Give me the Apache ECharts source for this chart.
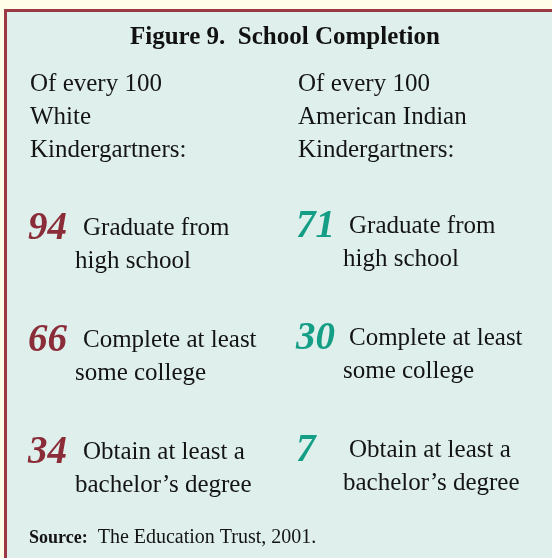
<!DOCTYPE html>
<html>
<head>
<meta charset="utf-8">
<script src="https://cdn.jsdelivr.net/npm/echarts@6/dist/echarts.min.js"></script>
<style>
  html, body { margin: 0; padding: 0; background: #fffde8; }
  #chart { width: 552px; height: 558px; }
</style>
</head>
<body>
<div id="chart"></div>
<script>
// groups of kindergartners (columns) and outcomes (rows)
var groups = ['White', 'American Indian']
var outcomes = ['Graduate from\nhigh school', 'Complete at least\nsome college', 'Obtain at least a\nbachelor\u2019s degree']
var whiteValues = [94, 66, 34]
var indianValues = [71, 30, 7]

var serif = '"Liberation Serif", "DejaVu Serif", serif'
var maroon = '#8b2c39'
var teal = '#159e86'
var ink = '#141414'

function buildLabel(color, numWidth, gap) {
  return {
    show: true,
    position: 'right',
    distance: 0,
    formatter: function (p) {
      var lines = outcomes[p.value[1]].split('\n')
      return '{n|' + p.value[2] + '}{a|' + lines[0] + '}\n{s|}{b|' + lines[1] + '}'
    },
    rich: {
      n: { fontFamily: serif, fontSize: 39, fontWeight: 'bold', fontStyle: 'italic', color: color, width: numWidth, lineHeight: 33, verticalAlign: 'middle' },
      a: { fontFamily: serif, fontSize: 25, color: ink, lineHeight: 33, padding: [0, 0, 0, gap], verticalAlign: 'middle' },
      s: { width: numWidth, lineHeight: 33 },
      b: { fontFamily: serif, fontSize: 25, color: ink, lineHeight: 33, verticalAlign: 'middle' }
    }
  }
}

var chart = echarts.init(document.getElementById('chart'))
chart.setOption({
  backgroundColor: '#fffde8',
  animation: false,
  graphic: [{
    type: 'rect',
    z: -10,
    shape: { x: 5.5, y: 10.5, width: 560, height: 560 },
    style: { fill: '#dff0ec', stroke: '#9b3a45', lineWidth: 3 }
  }],
  title: [{
    text: 'Figure 9.  School Completion',
    left: 125,
    top: 20,
    textStyle: { fontFamily: serif, fontSize: 25, fontWeight: 'bold', color: '#111' }
  }, {
    text: '{b|Source:}  {r|The Education Trust, 2001.}',
    left: 24,
    top: 523,
    textStyle: {
      fontFamily: serif, fontSize: 20, fontWeight: 'normal', color: ink,
      rich: {
        b: { fontFamily: serif, fontSize: 18, fontWeight: 'bold', color: ink, verticalAlign: 'middle' },
        r: { fontFamily: serif, fontSize: 20, fontWeight: 'normal', color: ink, verticalAlign: 'middle' }
      }
    }
  }],
  grid: { left: 28, right: 256, top: 245, bottom: 89 },
  xAxis: {
    type: 'category',
    data: groups,
    position: 'top',
    boundaryGap: false,
    axisLine: { show: false },
    axisTick: { show: false },
    splitLine: { show: false },
    axisLabel: {
      interval: 0,
      align: 'left',
      margin: 78,
      padding: [0, 0, 0, 2],
      fontFamily: serif,
      fontSize: 25,
      lineHeight: 33,
      color: ink,
      formatter: function (v) { return 'Of every 100\n' + v + '\nKindergartners:' }
    }
  },
  yAxis: {
    type: 'category',
    data: outcomes,
    inverse: true,
    boundaryGap: false,
    show: false
  },
  series: [{
    name: groups[0],
    type: 'scatter',
    symbolSize: 0,
    itemStyle: { opacity: 1 },
    data: whiteValues.map(function (v, i) { return [0, i, v] }),
    label: buildLabel(maroon, 47, 8)
  }, {
    name: groups[1],
    type: 'scatter',
    symbolSize: 0,
    itemStyle: { opacity: 1 },
    data: indianValues.map(function (v, i) { return [1, i, v] }),
    label: Object.assign(buildLabel(teal, 47, 6), { offset: [0, -2] })
  }]
})
</script>
</body>
</html>
